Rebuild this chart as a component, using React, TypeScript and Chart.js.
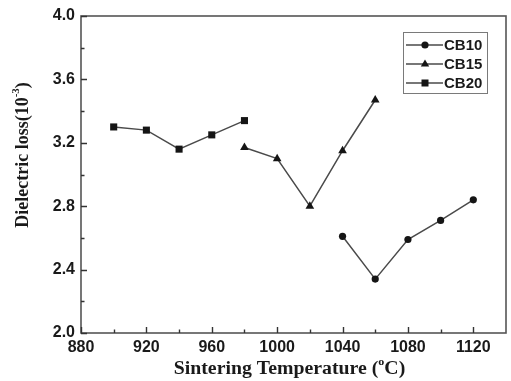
import { useEffect, useRef } from "react";
import { Chart, registerables } from "chart.js";

Chart.register(...registerables);

// Dielectric loss (×10^-3) versus sintering temperature for three compositions
const temperaturesCB10 = [1040, 1060, 1080, 1100, 1120];
const lossCB10 = [2.61, 2.34, 2.59, 2.71, 2.84];

const temperaturesCB15 = [980, 1000, 1020, 1040, 1060];
const lossCB15 = [3.17, 3.1, 2.8, 3.15, 3.47];

const temperaturesCB20 = [900, 920, 940, 960, 980];
const lossCB20 = [3.3, 3.28, 3.16, 3.25, 3.34];

const seriesNames = ["CB10", "CB15", "CB20"];
const seriesMarkers = ["circle", "triangle", "rect"];

const xMajorTicks = [880, 920, 960, 1000, 1040, 1080, 1120];
const xMinorTicks = [900, 940, 980, 1020, 1060, 1100];
const yMajorTicks = [2.0, 2.4, 2.8, 3.2, 3.6, 4.0];
const yMinorTicks = [2.2, 2.6, 3.0, 3.4, 3.8];

const LINE_COLOR = "#4a4a4a";
const MARK_COLOR = "#151515";
const FRAME_COLOR = "#555555";
const SANS = "'Liberation Sans', Arial, sans-serif";
const SERIF = "'Liberation Serif', 'Times New Roman', serif";

function toPoints(xs: number[], ys: number[]) {
  return xs.map((x, i) => ({ x, y: ys[i] }));
}

function drawMarker(ctx: CanvasRenderingContext2D, kind: string, x: number, y: number) {
  ctx.save();
  ctx.fillStyle = MARK_COLOR;
  ctx.beginPath();
  if (kind === "circle") {
    ctx.arc(x, y, 3.6, 0, Math.PI * 2);
  } else if (kind === "triangle") {
    ctx.moveTo(x, y - 4.6);
    ctx.lineTo(x + 4.2, y + 2.6);
    ctx.lineTo(x - 4.2, y + 2.6);
    ctx.closePath();
  } else {
    ctx.rect(x - 3.5, y - 3.5, 7, 7);
  }
  ctx.fill();
  ctx.restore();
}

// Draws text pieces in a row, with optional superscripts; centred at (0,0) of the current transform
function drawRichText(
  ctx: CanvasRenderingContext2D,
  parts: { text: string; sup?: boolean }[],
  size: number
) {
  const mainFont = `bold ${size}px ${SERIF}`;
  const supFont = `bold ${Math.round(size * 0.62)}px ${SERIF}`;
  let total = 0;
  const widths = parts.map((p) => {
    ctx.font = p.sup ? supFont : mainFont;
    const w = ctx.measureText(p.text).width;
    total += w;
    return w;
  });
  let x = -total / 2;
  ctx.textBaseline = "middle";
  ctx.textAlign = "left";
  parts.forEach((p, i) => {
    ctx.font = p.sup ? supFont : mainFont;
    ctx.fillText(p.text, x, p.sup ? -size * 0.38 : 0);
    x += widths[i];
  });
}

const framePlugin = {
  id: "frameAndDecor",
  afterDraw(chart: any) {
    const ctx: CanvasRenderingContext2D = chart.ctx;
    const { left, right, top, bottom } = chart.chartArea;
    const xs = chart.scales.x;
    const ys = chart.scales.y;
    ctx.save();

    // frame
    ctx.strokeStyle = FRAME_COLOR;
    ctx.lineWidth = 1.6;
    ctx.strokeRect(left, top, right - left, bottom - top);

    // inward ticks on the bottom and left axes
    ctx.lineWidth = 1.4;
    ctx.strokeStyle = "#333";
    ctx.beginPath();
    xMajorTicks.forEach((v) => {
      const px = Math.round(xs.getPixelForValue(v)) + 0.5;
      ctx.moveTo(px, bottom);
      ctx.lineTo(px, bottom - 6);
    });
    xMinorTicks.forEach((v) => {
      const px = Math.round(xs.getPixelForValue(v)) + 0.5;
      ctx.moveTo(px, bottom);
      ctx.lineTo(px, bottom - 3.5);
    });
    yMajorTicks.forEach((v) => {
      const py = Math.round(ys.getPixelForValue(v)) + 0.5;
      ctx.moveTo(left, py);
      ctx.lineTo(left + 6, py);
    });
    yMinorTicks.forEach((v) => {
      const py = Math.round(ys.getPixelForValue(v)) + 0.5;
      ctx.moveTo(left, py);
      ctx.lineTo(left + 3.5, py);
    });
    ctx.stroke();

    // legend box
    const lx = 403;
    const ly = 32;
    const lw = 84;
    const lh = 61;
    ctx.strokeStyle = "#7a7a7a";
    ctx.lineWidth = 1;
    ctx.strokeRect(lx + 0.5, ly + 0.5, lw, lh);
    seriesNames.forEach((name, i) => {
      const cy = ly + 13 + i * 19;
      ctx.strokeStyle = LINE_COLOR;
      ctx.lineWidth = 1.5;
      ctx.beginPath();
      ctx.moveTo(lx + 3, cy);
      ctx.lineTo(lx + 40, cy);
      ctx.stroke();
      drawMarker(ctx, seriesMarkers[i], lx + 22, cy);
      ctx.fillStyle = "#1a1a1a";
      ctx.font = `bold 15px ${SANS}`;
      ctx.textAlign = "left";
      ctx.textBaseline = "middle";
      ctx.fillText(name, lx + 41, cy + 1);
    });

    // axis titles
    ctx.fillStyle = "#1a1a1a";
    ctx.save();
    ctx.translate((left + right) / 2 - 4, 369);
    ctx.scale(1.1, 1);
    drawRichText(
      ctx,
      [{ text: "Sintering Temperature (" }, { text: "o", sup: true }, { text: "C)" }],
      18
    );
    ctx.restore();

    ctx.save();
    ctx.translate(23, 155);
    ctx.rotate(-Math.PI / 2);
    drawRichText(
      ctx,
      [{ text: "Dielectric loss(10" }, { text: "-3", sup: true }, { text: ")" }],
      18
    );
    ctx.restore();

    ctx.restore();
  },
};

export default function App() {
  const canvasRef = useRef<HTMLCanvasElement | null>(null);

  useEffect(() => {
    if (!canvasRef.current) return;
    const makeSet = (label: string, xs: number[], ys: number[], style: string) => ({
      label,
      data: toPoints(xs, ys),
      borderColor: LINE_COLOR,
      borderWidth: 1.5,
      pointStyle: style,
      pointRadius: style === "rect" ? 5 : style === "triangle" ? 5 : 3.6,
      pointBackgroundColor: MARK_COLOR,
      pointBorderColor: MARK_COLOR,
      pointBorderWidth: 0,
      showLine: true,
      fill: false,
      tension: 0,
    });

    const chart = new Chart(canvasRef.current, {
      type: "scatter",
      data: {
        datasets: [
          makeSet(seriesNames[0], temperaturesCB10, lossCB10, seriesMarkers[0]),
          makeSet(seriesNames[1], temperaturesCB15, lossCB15, seriesMarkers[1]),
          makeSet(seriesNames[2], temperaturesCB20, lossCB20, seriesMarkers[2]),
        ] as any,
      },
      options: {
        animation: false,
        responsive: false,
        maintainAspectRatio: false,
        layout: { padding: { left: 0, right: 2, top: 16, bottom: 0 } },
        plugins: {
          legend: { display: false },
          tooltip: { enabled: false },
        },
        scales: {
          x: {
            type: "linear",
            min: 880,
            max: 1140,
            grid: { display: false, drawTicks: false },
            border: { display: false },
            afterBuildTicks: (scale: any) => {
              scale.ticks = xMajorTicks.map((v) => ({ value: v }));
            },
            afterFit: (scale: any) => {
              scale.height = 48;
            },
            ticks: {
              padding: 5,
              maxRotation: 0,
              autoSkip: false,
              color: "#1a1a1a",
              font: { family: SANS, size: 16, weight: "bold" },
              callback: (v: any) => String(v),
            },
          },
          y: {
            type: "linear",
            min: 2,
            max: 4,
            grid: { display: false, drawTicks: false },
            border: { display: false },
            afterBuildTicks: (scale: any) => {
              scale.ticks = yMajorTicks.map((v) => ({ value: v }));
            },
            afterFit: (scale: any) => {
              scale.width = 81;
            },
            ticks: {
              padding: 6,
              autoSkip: false,
              color: "#1a1a1a",
              font: { family: SANS, size: 16, weight: "bold" },
              callback: (v: any) => Number(v).toFixed(1),
            },
          },
        },
      } as any,
      plugins: [framePlugin],
    });
    return () => chart.destroy();
  }, []);

  return (
    <div
      style={{
        position: "fixed",
        left: 0,
        top: 0,
        width: 511,
        height: 381,
        background: "#ffffff",
      }}
    >
      <canvas ref={canvasRef} width={511} height={381} style={{ display: "block" }} />
    </div>
  );
}
